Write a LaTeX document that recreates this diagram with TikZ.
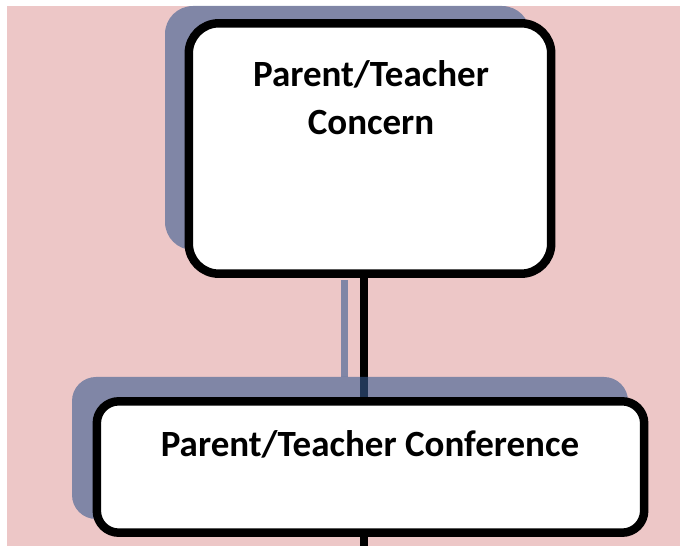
\documentclass[tikz,border=0pt]{standalone}
\usepackage{fontspec}
\setmainfont{Carlito}
\definecolor{pinkbg}{RGB}{237,199,199}
\definecolor{shadowc}{RGB}{56,91,144}
\tikzset{
  x=1pt, y=1pt,
  flowbox/.style={draw=black, line width=8.5pt, fill=white},
  shadowbox/.style={fill=shadowc, fill opacity=0.6, draw=none},
  boxtext/.style={font=\fontsize{37}{48}\selectfont\bfseries, align=center, inner sep=0pt, anchor=base},
  link/.style={draw=black, line width=8pt},
  linkshadow/.style={draw=shadowc, draw opacity=0.6, line width=7pt}
}
\begin{document}
\begin{tikzpicture}
\useasboundingbox (0,0) rectangle (680,546);
\fill[white] (0,0) rectangle (680,546);
\fill[pinkbg] (7,0) rectangle (680,540);
% connector shadow
\draw[linkshadow] (344,266) -- (344,169);
% nodes (positions)
\node[minimum width=362pt, minimum height=250pt, inner sep=0pt] (concern) at (370,397.5) {};
\node[minimum width=547pt, minimum height=131pt, inner sep=0pt] (conference) at (370.5,79) {};
\coordinate (bottom) at (364,0);
% connectors
\draw[link] (bottom |- concern.south) -- (bottom |- conference.north);
\draw[link] (bottom |- conference.south) -- (bottom);
% shadows
\fill[shadowbox, rounded corners=28pt] (165,296) rectangle (530,540);
\fill[shadowbox, rounded corners=24pt] (72,27) rectangle (628,169);
% boxes
\draw[flowbox, rounded corners=30pt] (concern.south west) rectangle (concern.north east);
\draw[flowbox, rounded corners=22pt] (conference.south west) rectangle (conference.north east);
% texts
\node[boxtext] (concernA) at (371,459) {Parent/Teacher};
\node[boxtext] (concernB) at (371,411) {Concern};
\node[boxtext] (confA) at (370,89) {Parent/Teacher Conference};
\end{tikzpicture}
\end{document}
